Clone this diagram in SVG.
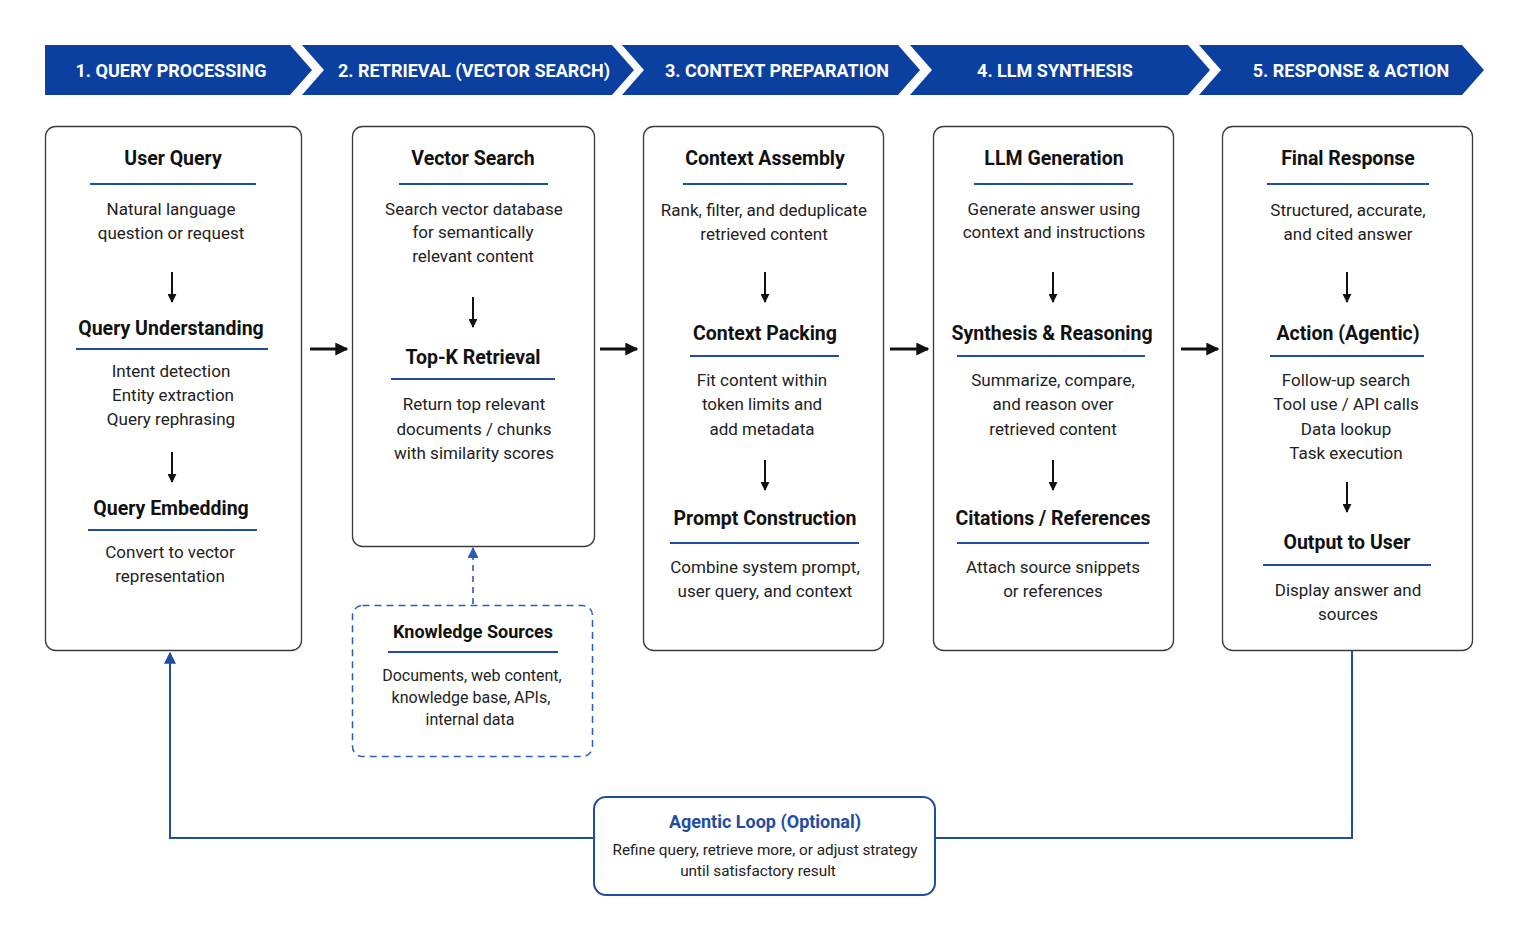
<svg xmlns="http://www.w3.org/2000/svg" width="1528" height="942" viewBox="0 0 1528 942">
<style>
.bn{fill:#0B3FA0}
.bt{font-family:Roboto,"Liberation Sans",sans-serif;font-weight:700;font-size:18px;fill:#fff;text-anchor:middle}
.box{fill:#fff;stroke:#3a3a3a;stroke-width:1.3}
.h{font-family:Roboto,"Liberation Sans",sans-serif;font-weight:700;font-size:19.5px;fill:#111;text-anchor:middle}
.t{font-family:Roboto,"Liberation Sans",sans-serif;font-size:17px;fill:#222;text-anchor:middle}
.s{font-family:Roboto,"Liberation Sans",sans-serif;font-size:16px;fill:#222;text-anchor:middle}
.ul{stroke:#1F4EA0;stroke-width:2}
.da{stroke:#111;stroke-width:2;fill:none;marker-end:url(#ah)}
.ba{stroke:#111;stroke-width:2.8;fill:none;marker-end:url(#bh)}
.loop{stroke:#1F4EA0;stroke-width:2;fill:none}
</style>
<defs>
<marker id="ah" viewBox="0 0 10 10" refX="9" refY="5" markerWidth="9" markerHeight="9" markerUnits="userSpaceOnUse" orient="auto"><path d="M0,0 L10,5 L0,10 z" fill="#111"/></marker>
<marker id="bh" viewBox="0 0 10 10" refX="9" refY="5" markerWidth="13" markerHeight="13" markerUnits="userSpaceOnUse" orient="auto"><path d="M0,0 L10,5 L0,10 z" fill="#111"/></marker>
<marker id="blh" viewBox="0 0 10 10" refX="9" refY="5" markerWidth="12" markerHeight="12" markerUnits="userSpaceOnUse" orient="auto"><path d="M0,0 L10,5 L0,10 z" fill="#1F4EA0"/></marker>
<marker id="dh" viewBox="0 0 10 10" refX="9" refY="5" markerWidth="11" markerHeight="11" markerUnits="userSpaceOnUse" orient="auto"><path d="M0,0 L10,5 L0,10 z" fill="#2B5CB8"/></marker>
</defs>
<rect width="1528" height="942" fill="#fff"/>

<g id="banner">
<polygon class="bn" points="45,45 290,45 312,70 290,95 45,95"/>
<polygon class="bn" points="302,45 612,45 634,70 612,95 302,95 324,70"/>
<polygon class="bn" points="622,45 898,45 920,70 898,95 622,95 644,70"/>
<polygon class="bn" points="910,45 1188,45 1210,70 1188,95 910,95 932,70"/>
<polygon class="bn" points="1199,45 1462,45 1484,70 1462,95 1199,95 1221,70"/>
<text class="bt" x="171" y="77">1.  QUERY PROCESSING</text>
<text class="bt" x="474" y="77">2. RETRIEVAL (VECTOR SEARCH)</text>
<text class="bt" x="777" y="77">3.  CONTEXT PREPARATION</text>
<text class="bt" x="1055" y="77">4. LLM SYNTHESIS</text>
<text class="bt" x="1351" y="77">5. RESPONSE &amp; ACTION</text>
</g>

<g id="box1">
<rect class="box" x="45.5" y="126.5" width="256" height="524" rx="10"/>
<text class="h" x="173" y="165">User Query</text>
<line class="ul" x1="90" y1="184" x2="256" y2="184"/>
<text class="t" x="171" y="215">Natural language</text>
<text class="t" x="171" y="239">question or request</text>
<text class="h" x="171" y="335">Query Understanding</text>
<line class="ul" x1="76" y1="349" x2="268" y2="349"/>
<text class="t" x="171" y="377">Intent detection</text>
<text class="t" x="173" y="401">Entity extraction</text>
<text class="t" x="171" y="425">Query rephrasing</text>
<text class="h" x="171" y="515">Query Embedding</text>
<line class="ul" x1="88" y1="530" x2="257" y2="530"/>
<text class="t" x="170" y="558">Convert to vector</text>
<text class="t" x="170" y="582">representation</text>
</g>

<g id="box2">
<rect class="box" x="352.5" y="126.5" width="242" height="420" rx="10"/>
<text class="h" x="473" y="165">Vector Search</text>
<line class="ul" x1="399" y1="184" x2="548" y2="184"/>
<text class="t" x="474" y="215">Search vector database</text>
<text class="t" x="473" y="238">for semantically</text>
<text class="t" x="473" y="262">relevant content</text>
<text class="h" x="473" y="364">Top-K Retrieval</text>
<line class="ul" x1="391" y1="379" x2="555" y2="379"/>
<text class="t" x="474" y="410">Return top relevant</text>
<text class="t" x="474" y="435">documents / chunks</text>
<text class="t" x="474" y="459">with similarity scores</text>
</g>

<g id="knowledge">
<rect x="352.5" y="605.5" width="240" height="151" rx="10" fill="#fff" stroke="#2B5CB8" stroke-width="1.5" stroke-dasharray="7,5"/>
<text class="h" x="473" y="638" style="font-size:18px">Knowledge Sources</text>
<line class="ul" x1="388" y1="652" x2="558" y2="652"/>
<text class="s" x="472" y="681">Documents, web content,</text>
<text class="s" x="471" y="703">knowledge base, APIs,</text>
<text class="s" x="470" y="725">internal data</text>
</g>

<g id="box3">
<rect class="box" x="643.5" y="126.5" width="240" height="524" rx="10"/>
<text class="h" x="765" y="165">Context Assembly</text>
<line class="ul" x1="683" y1="184" x2="847" y2="184"/>
<text class="t" x="764" y="216">Rank, filter, and deduplicate</text>
<text class="t" x="764" y="240">retrieved content</text>
<text class="h" x="765" y="340">Context Packing</text>
<line class="ul" x1="690" y1="356" x2="839" y2="356"/>
<text class="t" x="762" y="386">Fit content within</text>
<text class="t" x="762" y="410">token limits and</text>
<text class="t" x="762" y="435">add metadata</text>
<text class="h" x="765" y="525">Prompt Construction</text>
<line class="ul" x1="670" y1="543" x2="859" y2="543"/>
<text class="t" x="765" y="573">Combine system prompt,</text>
<text class="t" x="765" y="597">user query, and context</text>
</g>

<g id="box4">
<rect class="box" x="933.5" y="126.5" width="240" height="524" rx="10"/>
<text class="h" x="1054" y="165">LLM Generation</text>
<line class="ul" x1="974" y1="184" x2="1133" y2="184"/>
<text class="t" x="1054" y="215">Generate answer using</text>
<text class="t" x="1054" y="238">context and instructions</text>
<text class="h" x="1052" y="340">Synthesis &amp; Reasoning</text>
<line class="ul" x1="957" y1="356" x2="1145" y2="356"/>
<text class="t" x="1053" y="386">Summarize, compare,</text>
<text class="t" x="1053" y="410">and reason over</text>
<text class="t" x="1053" y="435">retrieved content</text>
<text class="h" x="1053" y="525">Citations / References</text>
<line class="ul" x1="957" y1="543" x2="1149" y2="543"/>
<text class="t" x="1053" y="573">Attach source snippets</text>
<text class="t" x="1053" y="597">or references</text>
</g>

<g id="box5">
<rect class="box" x="1222.5" y="126.5" width="250" height="524" rx="10"/>
<text class="h" x="1348" y="165">Final Response</text>
<line class="ul" x1="1267" y1="184" x2="1429" y2="184"/>
<text class="t" x="1348" y="216">Structured, accurate,</text>
<text class="t" x="1348" y="240">and cited answer</text>
<text class="h" x="1348" y="340">Action (Agentic)</text>
<line class="ul" x1="1270" y1="356" x2="1424" y2="356"/>
<text class="t" x="1346" y="386">Follow-up search</text>
<text class="t" x="1346" y="410">Tool use / API calls</text>
<text class="t" x="1346" y="435">Data lookup</text>
<text class="t" x="1346" y="459">Task execution</text>
<text class="h" x="1347" y="549">Output to User</text>
<line class="ul" x1="1263" y1="565" x2="1431" y2="565"/>
<text class="t" x="1348" y="596">Display answer and</text>
<text class="t" x="1348" y="620">sources</text>
</g>

<g id="agentic">
<rect x="594" y="797" width="341" height="98" rx="12" fill="#fff" stroke="#1F4EA0" stroke-width="2"/>
<text class="h" x="765" y="828" style="font-size:18px;fill:#1F4EA0">Agentic Loop (Optional)</text>
<text class="s" x="765" y="855" style="font-size:15.3px">Refine query, retrieve more, or adjust strategy</text>
<text class="s" x="758" y="876" style="font-size:15.3px">until satisfactory result</text>
</g>

<g id="connectors">
<line class="da" x1="172" y1="272" x2="172" y2="302"/>
<line class="da" x1="172" y1="452" x2="172" y2="482"/>
<line class="da" x1="473" y1="297" x2="473" y2="327"/>
<line class="da" x1="765" y1="272" x2="765" y2="302"/>
<line class="da" x1="765" y1="460" x2="765" y2="490"/>
<line class="da" x1="1053" y1="272" x2="1053" y2="302"/>
<line class="da" x1="1053" y1="460" x2="1053" y2="490"/>
<line class="da" x1="1347" y1="272" x2="1347" y2="302"/>
<line class="da" x1="1347" y1="482" x2="1347" y2="512"/>
<line class="ba" x1="310" y1="349" x2="347" y2="349"/>
<line class="ba" x1="600" y1="349" x2="637" y2="349"/>
<line class="ba" x1="890" y1="349" x2="928" y2="349"/>
<line class="ba" x1="1181" y1="349" x2="1218" y2="349"/>
<line x1="473" y1="604" x2="473" y2="548" stroke="#2B5CB8" stroke-width="1.6" stroke-dasharray="6,5" marker-end="url(#dh)"/>
<polyline class="loop" points="1352,651 1352,838 935,838"/>
<polyline class="loop" points="594,838 170,838 170,653" marker-end="url(#blh)"/>
</g>
</svg>
